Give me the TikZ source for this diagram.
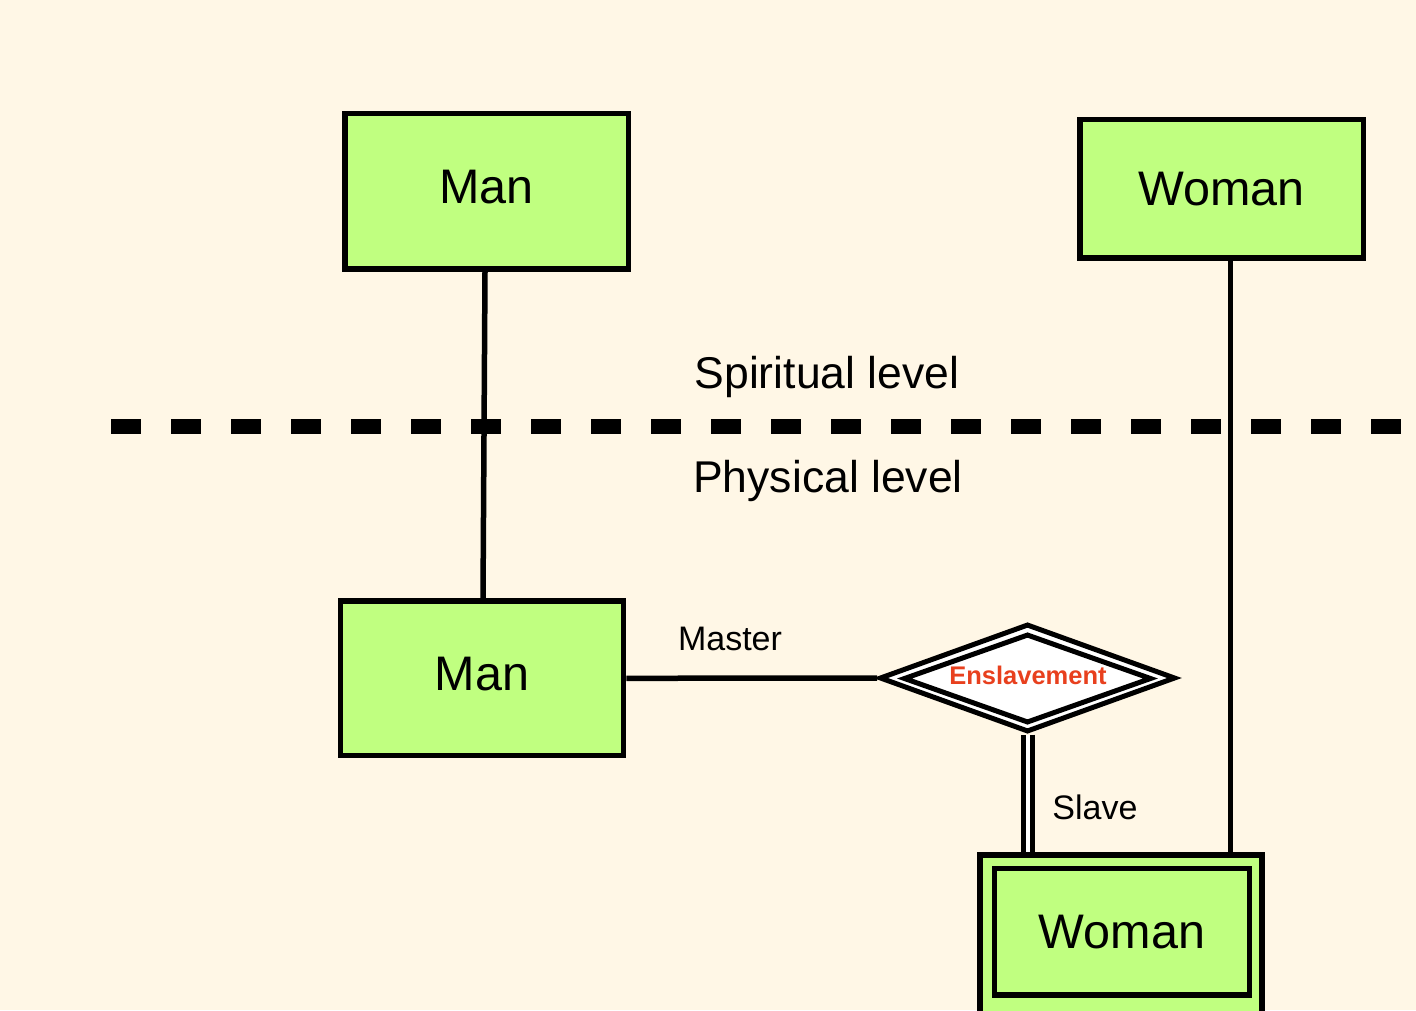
\documentclass[tikz,border=0pt]{standalone}
\usepackage{fontspec}
\setmainfont{Liberation Sans}
\usetikzlibrary{shapes.geometric}
\definecolor{bgc}{HTML}{FFF7E6}
\definecolor{boxg}{HTML}{C0FF80}
\definecolor{redt}{HTML}{E8401E}
\begin{document}
\begin{tikzpicture}[x=1pt,y=-1pt,
  entity/.style={draw=black, fill=boxg, line width=5.5pt, rectangle, inner sep=0pt,
    font=\fontsize{48.5}{48.5}\selectfont},
  mantext/.style={text height=34pt, text depth=10pt},
  lvl/.style={font=\fontsize{44.5}{44.5}\selectfont, inner sep=0pt, anchor=base},
  role/.style={font=\fontsize{34}{34}\selectfont, inner sep=0pt, anchor=base},
  conn/.style={line width=5.5pt}]
\path[use as bounding box, fill=bgc] (0,0) rectangle (1416,1010);
\clip (0,0) rectangle (1416,1010);
% entities
\node[entity, mantext, minimum width=283.5pt, minimum height=155.5pt] (tm) at (486.5,191.2) {Man};
\node[entity, minimum width=283.5pt, minimum height=138.5pt] (tw) at (1221.7,188.7) {Woman};
\node[entity, mantext, minimum width=283pt, minimum height=154.5pt] (bm) at (482,678.3) {Man};
\node[entity, minimum width=282.3pt, minimum height=160pt] (wbo) at (1121,935) {};
\node[entity, minimum width=255pt, minimum height=126.5pt] (wbi) at (1122,931.7) {Woman};
% relationship
\node[diamond, draw=black, fill=white, line width=5pt, inner sep=0pt,
  minimum width=296pt, minimum height=108pt] (dia) at (1027.5,678) {};
\node[diamond, draw=black, fill=white, line width=5pt, inner sep=0pt,
  minimum width=248pt, minimum height=89pt] (diai) at (1027.5,678.5) {};
\node[font=\bfseries\fontsize{25.5}{25.5}\selectfont, text=redt, inner sep=0pt, anchor=base] (rel) at (1028,684) {Enslavement};
% level separator
\coordinate (sepL) at (111,426);
\coordinate (sepR) at (1416,426);
\draw[line width=15pt, dash pattern=on 30pt off 30pt] (sepL) -- (sepR);
\node[lvl] (spir) at (827,388) {Spiritual level};
\node[lvl] (phys) at (828,492) {Physical level};
% connectors
\draw[conn] ([xshift=-1.5pt]tm.south) -- ([xshift=1pt]bm.north);
\draw[conn] ([xshift=9pt]tw.south) -- ([xshift=9pt]tw.south |- wbo.north);
\draw[conn] (bm.east) -- (dia.west);
\draw[line width=5pt, double=white, double distance=4pt] (dia.south) -- (dia.south |- wbo.north);
% role labels
\node[role] (master) at (730,650) {Master};
\node[role] (slave) at (1095,819) {Slave};
\end{tikzpicture}
\end{document}
